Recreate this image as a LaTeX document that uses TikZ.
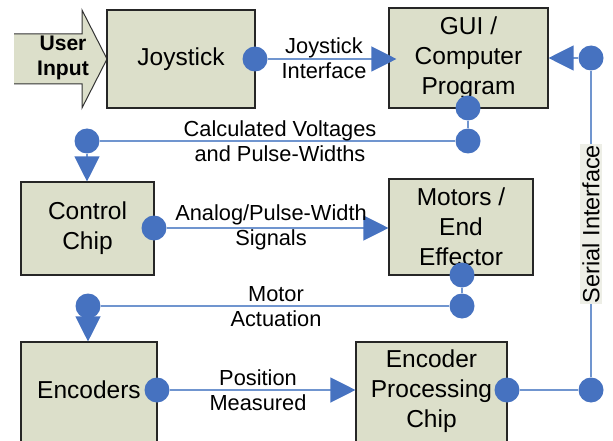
\documentclass[tikz,border=0pt]{standalone}
\usepackage{fontspec}
\setmainfont{Liberation Sans}
\usetikzlibrary{arrows.meta}
\definecolor{boxfill}{HTML}{DCDFCA}
\definecolor{dotblue}{HTML}{4672C0}
\definecolor{lineblue}{HTML}{7095CF}
\definecolor{tagfill}{HTML}{EDEEE6}
\newcommand{\boxfont}{\fontsize{24.5}{30}\selectfont}
\newcommand{\wirefont}{\fontsize{21.8}{25}\selectfont}

\begin{document}
\begin{tikzpicture}[x=1pt,y=-1pt,
		blk/.style={draw=black!85, fill=boxfill, line width=1.1pt, align=center, font=\boxfont, inner sep=0pt},
		dot/.style={circle, fill=dotblue, inner sep=0pt, minimum size=25pt},
		wire/.style={draw=lineblue, line width=1.2pt},
		tip/.style={-{Triangle[length=25pt,width=25pt,color=dotblue]}},
		lbl/.style={align=center, font=\wirefont, inner sep=0pt}]
		\path[use as bounding box, clip] (0,0) rectangle (613,441);

		% user input arrow
		\fill[boxfill] (14,34)--(82,34)--(82,10)--(107,59)--(82,108)--(82,84)--(14,84)--cycle;
		\draw[black!80, line width=1pt] (14,34)--(82,34)--(82,10)--(107,59)--(82,108)--(82,84)--(14,84);
		\node[font=\fontsize{21.1}{25}\selectfont\bfseries, align=center, inner sep=0pt] at (63,58)(usr){User\\Input};

		\node[blk, minimum width=148pt, minimum height=98pt] at (181,59)(joy){Joystick};
		\node[blk, minimum width=159pt, minimum height=100pt] at (468.5,58)(gui){GUI /\\Computer\\Program};
		\node[blk, minimum width=133pt, minimum height=93pt] at (87.5,228.5)(ctl){Control\\Chip};
		\node[blk, minimum width=144pt, minimum height=96pt] at (461,227)(mot){Motors /\\End\\Effector};
		\node[blk, minimum width=136pt, minimum height=110pt,
			label={[font=\boxfont, yshift=7pt]center:Encoders}] at (89,397)(enc){};
		\node[blk, minimum width=151pt, minimum height=110pt,
			label={[font=\boxfont, align=center, yshift=6pt]center:Encoder\\Processing\\Chip}] at (431.5,397)(prc){};

		\node[dot] at (255,59)(jd){};
		\node[dot] at (591,58)(sd1){};
		\node[dot] at (468,108)(gd1){};
		\node[dot] at (468,141)(gd2){};
		\node[dot] at (87,141)(cd1){};
		\node[dot] at (154,228)(cd2){};
		\node[dot] at (462,275)(md1){};
		\node[dot] at (462,306)(md2){};
		\node[dot] at (88,306)(ed1){};
		\node[dot] at (157,390)(ed2){};
		\node[dot] at (507,390)(pd){};
		\node[dot] at (591,390)(sd2){};

		\draw[wire, tip, shorten >=-8pt] (jd) -- (jd -| gui.west);
		\draw[wire, tip] (sd1) -- (sd1 -| gui.east);
		\draw[wire] (gd1) -- (gd2) -- (cd1);
		\draw[wire, tip] (cd1) -- (cd1 |- ctl.north);
		\draw[wire, tip] (cd2) -- (cd2 -| mot.west);
		\draw[wire] (md1) -- (md2) -- (ed1);
		\draw[wire, tip] (ed1) -- (ed1 |- enc.north);
		\draw[wire, tip] (ed2) -- (ed2 -| prc.west);
		\draw[wire] (pd) -- (sd2) -- (sd1);

		\node[rotate=90, fill=tagfill, font=\fontsize{23.5}{25}\selectfont, inner xsep=1pt, inner ysep=2pt] at (591,224)(ser){Serial Interface};

		\node[lbl] at (324,58)(jlab){Joystick\\Interface};
		\node[lbl] at (280,141)(clab){Calculated Voltages\\and Pulse-Widths};
		\node[lbl] at (271,227)(alab){Analog/Pulse-Width\\Signals};
		\node[lbl] at (276,307)(mlab){Motor\\Actuation};
		\node[lbl] at (258,390)(plab){Position\\Measured};
	\end{tikzpicture}
\end{document}
